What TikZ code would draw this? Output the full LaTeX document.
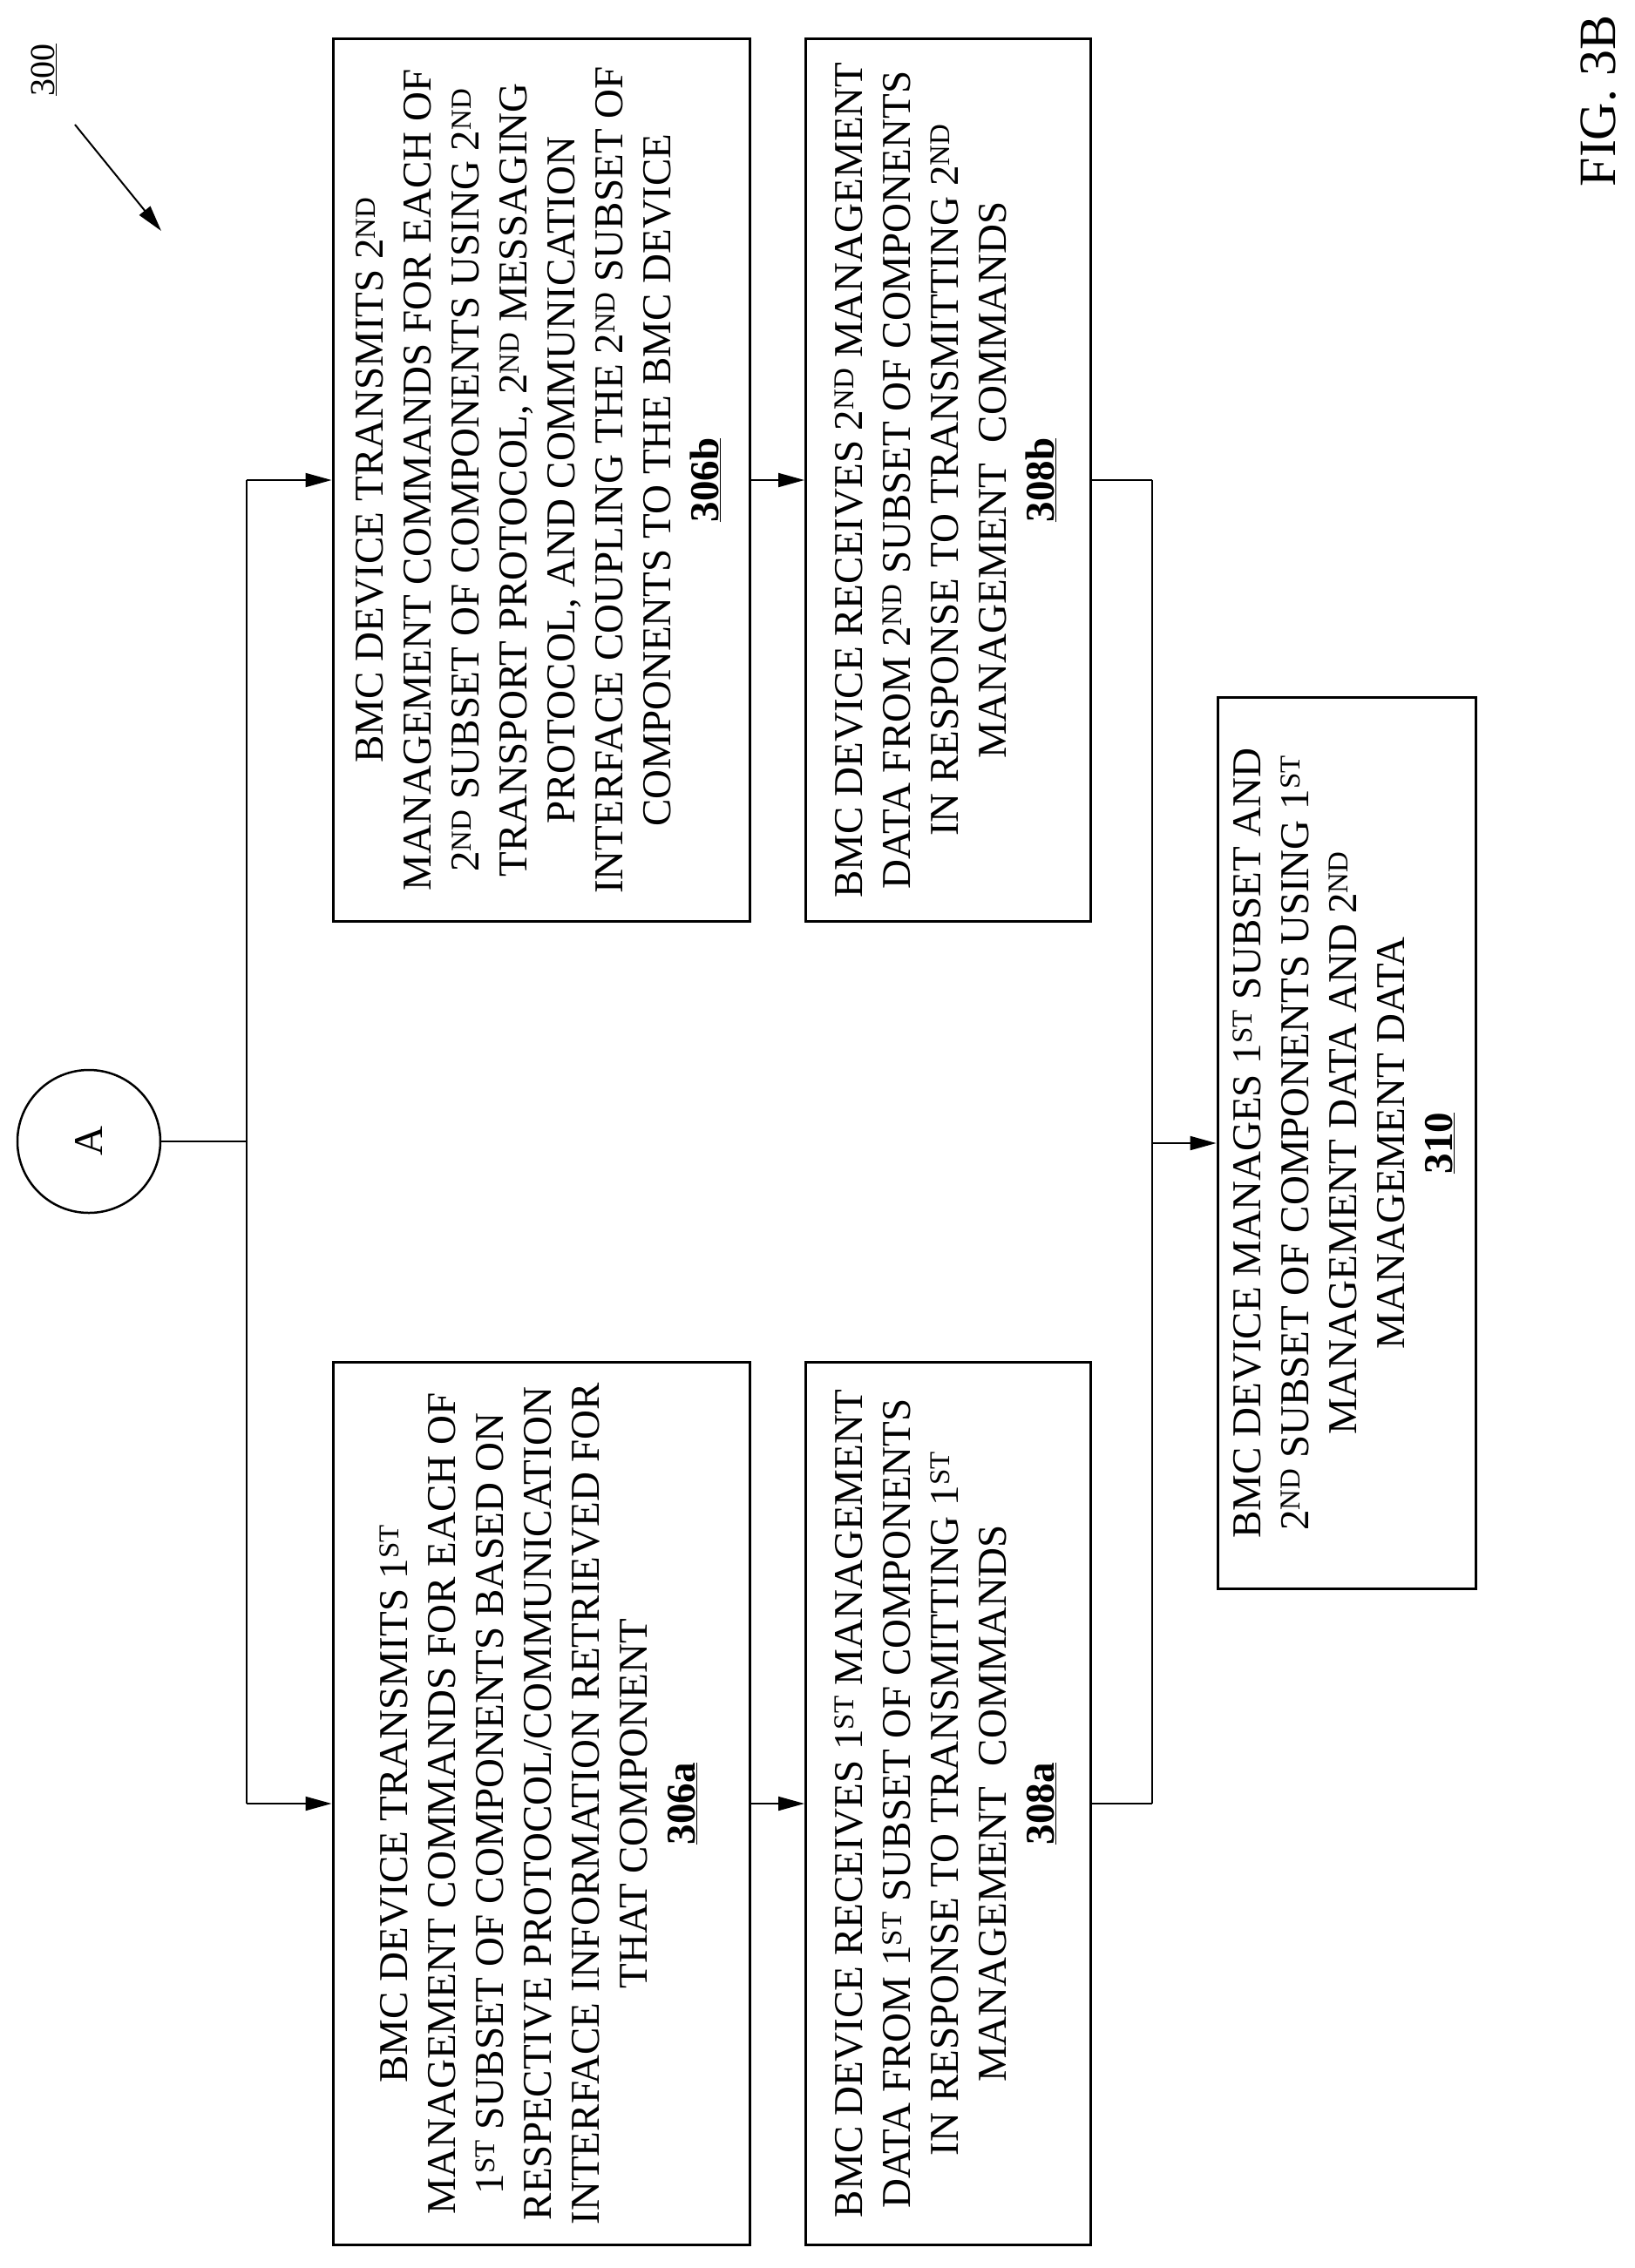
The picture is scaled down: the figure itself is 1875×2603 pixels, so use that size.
\documentclass[tikz,border=0pt]{standalone}
\usepackage{fontspec}
\setmainfont{Liberation Serif}
\usetikzlibrary{arrows.meta}
\newcommand{\sts}{\textsuperscript{ST}}
\newcommand{\nds}{\textsuperscript{ND}}
\newcommand{\rbox}[1]{\rotatebox{90}{\fontsize{47}{55}\selectfont\begin{tabular}{@{}c@{}}#1\end{tabular}}}
\begin{document}
\begin{tikzpicture}[x=1pt,y=-1pt,
  box/.style={draw,line width=3pt,rectangle,inner sep=0pt},
  conn/.style={line width=2pt},
  arr/.style={line width=2pt,-{Triangle[length=30pt,width=16pt]}}]
\useasboundingbox (0,0) rectangle (1875,2603);
\node[box,minimum width=478pt,minimum height=1013pt] (n306a) at (621,2070) {\rbox{BMC DEVICE TRANSMITS 1\sts\\MANAGEMENT COMMANDS FOR EACH OF\\1\sts{} SUBSET OF COMPONENTS BASED ON\\RESPECTIVE PROTOCOL/COMMUNICATION\\INTERFACE INFORMATION RETRIEVED FOR\\THAT COMPONENT\\\textbf{\underline{306a}}}};
\node[box,minimum width=478pt,minimum height=1013pt] (n306b) at (621,551) {\rbox{BMC DEVICE TRANSMITS 2\nds\\MANAGEMENT COMMANDS FOR EACH OF\\2\nds{} SUBSET OF COMPONENTS USING 2\nds\\TRANSPORT PROTOCOL, 2\nds{} MESSAGING\\PROTOCOL, AND COMMUNICATION\\INTERFACE COUPLING THE 2\nds{} SUBSET OF\\COMPONENTS TO THE BMC DEVICE\\\textbf{\underline{306b}}}};
\node[box,minimum width=327pt,minimum height=1013pt] (n308a) at (1088,2070) {\rbox{BMC DEVICE RECEIVES 1\sts{} MANAGEMENT\\DATA FROM 1\sts{} SUBSET OF COMPONENTS\\IN RESPONSE TO TRANSMITTING 1\sts\\MANAGEMENT~~COMMANDS\\\textbf{\underline{308a}}}};
\node[box,minimum width=327pt,minimum height=1013pt] (n308b) at (1088,551) {\rbox{BMC DEVICE RECEIVES 2\nds{} MANAGEMENT\\DATA FROM 2\nds{} SUBSET OF COMPONENTS\\IN RESPONSE TO TRANSMITTING 2\nds\\MANAGEMENT~~COMMANDS\\\textbf{\underline{308b}}}};
\node[box,minimum width=296pt,minimum height=1023pt] (n310) at (1545,1312) {\rbox{BMC DEVICE MANAGES 1\sts{} SUBSET AND\\2\nds{} SUBSET OF COMPONENTS USING 1\sts\\MANAGEMENT DATA AND 2\nds\\MANAGEMENT DATA\\\textbf{\underline{310}}}};
\node[draw,circle,line width=2.5pt,minimum size=164pt,inner sep=0pt] (A) at (102,1310) {\rotatebox{90}{\fontsize{47}{55}\selectfont A}};
\node (lbl) at (50,80) {\rotatebox{90}{\fontsize{40}{48}\selectfont\underline{300}}};
\node (fig) at (1834,116) {\rotatebox{90}{\fontsize{60}{70}\selectfont FIG. 3B}};
\coordinate (s1) at (86,143);
\coordinate (s2) at (185,265);
\draw[arr] (s1) -- (s2);
\coordinate (jA) at (283,1310);
\coordinate (jt) at (283,551);
\coordinate (jb) at (283,2070);
\coordinate (kt) at (1322,551);
\coordinate (kb) at (1322,2070);
\coordinate (km) at (1322,1312);
\draw[conn] (A.east) -- (jA);
\draw[conn] (jt) -- (jb);
\draw[arr] (jt) -- (n306b.west);
\draw[arr] (jb) -- (n306a.west);
\draw[arr] (n306b.east) -- (n308b.west);
\draw[arr] (n306a.east) -- (n308a.west);
\draw[conn] (n308b.east) -- (kt);
\draw[conn] (n308a.east) -- (kb);
\draw[conn] (kt) -- (kb);
\draw[arr] (km) -- (n310.west);
\end{tikzpicture}
\end{document}
